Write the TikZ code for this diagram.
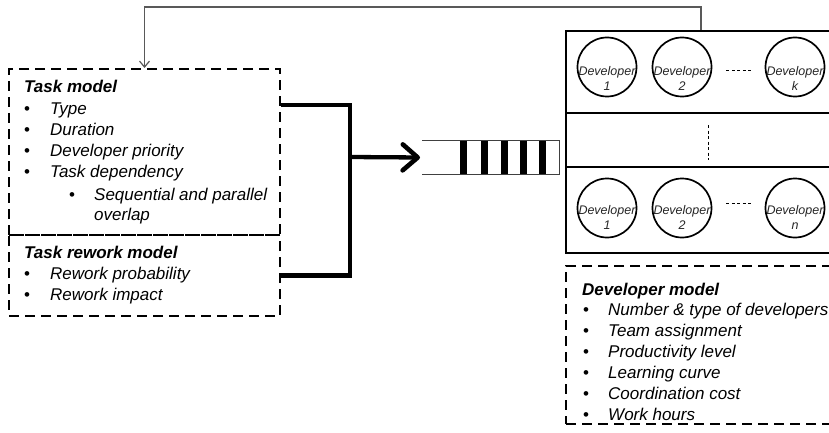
\documentclass[tikz,border=0pt]{standalone}
\usepackage{fontspec}
\setmainfont{Liberation Sans}
\usetikzlibrary{arrows.meta, positioning}

\tikzset{
  modelbox/.style={draw=black, line width=2pt, dash pattern=on 10pt off 6pt, inner sep=0pt},
  heading/.style={anchor=base west, inner sep=0pt, font=\fontsize{17}{20}\selectfont\bfseries\itshape},
  item/.style={anchor=base west, inner sep=0pt, font=\fontsize{17}{20}\selectfont\itshape},
  bulletdot/.style={anchor=base, inner sep=0pt, font=\fontsize{17}{20}\selectfont},
  devframe/.style={draw=black, line width=2pt, inner sep=0pt},
  devcircle/.style={draw=black, line width=1.7pt, circle, minimum size=59pt, inner sep=0pt},
  devlabel/.style={align=center, inner sep=0pt, font=\fontsize{12.5}{15}\selectfont\itshape, text=black!85},
  bracket/.style={line width=4.3pt, line join=miter},
  bigarrow/.style={line width=4.3pt, -{Straight Barb[length=15pt,width=26pt,line width=4.6pt,line cap=round,line join=round]}},
  feedback/.style={draw=black!65, line width=1.2pt, -{Straight Barb[length=6pt,width=10pt]}},
  gapline/.style={line width=0.8pt, dash pattern=on 3pt off 2.5pt},
}

\begin{document}
\begin{tikzpicture}[x=1pt, y=-1pt]
  \clip (0,0) rectangle (829,433);

  % task model and task rework model
  \node[modelbox, anchor=north west, minimum width=271pt, minimum height=166pt] (taskbox) at (8,68) {};
  \node[modelbox, anchor=north west, minimum width=271pt, minimum height=81pt] (reworkbox) at (8,234) {};

  \node[heading] (taskhead) at (24,93) {Task model};
  \foreach \txt [count=\i] in {Type, Duration, Developer priority, Task dependency} {
    \node[item] (task\i) at (50,{114+21.3*(\i-1)}) {\txt};
    \node[bulletdot] at (27,{114+21.3*(\i-1)}) {•};
  }
  \node[bulletdot] at (72,200) {•};
  \node[item] (seq) at (94,200) {Sequential and parallel};
  \node[item, below=4pt of seq.south west, anchor=north west] (overlap) {overlap};

  \node[heading] (reworkhead) at (24,258) {Task rework model};
  \foreach \txt [count=\i] in {Rework probability, Rework impact} {
    \node[item] (rework\i) at (50,{279+21*(\i-1)}) {\txt};
    \node[bulletdot] at (27,{279+21*(\i-1)}) {•};
  }

  % queue of tasks
  \node[minimum width=137pt, minimum height=33pt, inner sep=0pt, anchor=west] (queue) at (422,157.5) {};
  \draw[black!75, line width=1.2pt] (queue.north west) -- (queue.north east) -- (queue.south east) -- (queue.south west);
  \foreach \x in {460, 481, 501, 520, 539}
    \fill (\x,141) rectangle +(7,33);

  % merge of both models into the queue
  \coordinate (join) at (350,157);
  \draw[bracket] ([yshift=-37pt]taskbox.north east) -| (join) |- (reworkbox.east);
  \draw[bigarrow] (join) -- ([xshift=-2pt]queue.west);

  % developer teams
  \node[devframe, anchor=north west, minimum width=270pt, minimum height=222pt] (devbox) at (565,30) {};
  \draw[line width=1.3pt] (devbox.west |- 0,113) -- (devbox.east |- 0,113);
  \draw[line width=1.3pt] (devbox.west |- 0,167) -- (devbox.east |- 0,167);
  \foreach \x/\n [count=\i] in {607/1, 682/2, 795/k} {
    \node[devcircle] (top\i) at (\x,67) {};
    \node[devlabel] at ([yshift=-11pt]top\i.center) {Developer\\\n};
  }
  \foreach \x/\n [count=\i] in {607/1, 682/2, 795/n} {
    \node[devcircle] (bot\i) at (\x,208) {};
    \node[devlabel] at ([yshift=-9pt]bot\i.center) {Developer\\\n};
  }
  \draw[gapline] ([xshift=14pt,yshift=-3pt]top2.east) -- ([xshift=-13pt,yshift=-3pt]top3.west);
  \draw[gapline] ([xshift=14pt,yshift=5pt]bot2.east) -- ([xshift=-13pt,yshift=5pt]bot3.west);
  \draw[gapline] (708,125) -- (708,160);

  % feedback from the developers to the task model
  \draw[feedback] (devbox.north) -- ++(0,-23) -| (taskbox.north);

  % developer model
  \node[modelbox, anchor=north west, minimum width=270pt, minimum height=158pt] (devmodel) at (565,265) {};
  \node[heading] (devhead) at (582,295) {Developer model};
  \foreach \txt [count=\i] in {Number \& type of developers, Team assignment, Productivity level,
                               Learning curve, Coordination cost, Work hours} {
    \node[item] (dev\i) at (608,{315+21*(\i-1)}) {\txt};
    \node[bulletdot] at (586,{315+21*(\i-1)}) {•};
  }
\end{tikzpicture}
\end{document}
